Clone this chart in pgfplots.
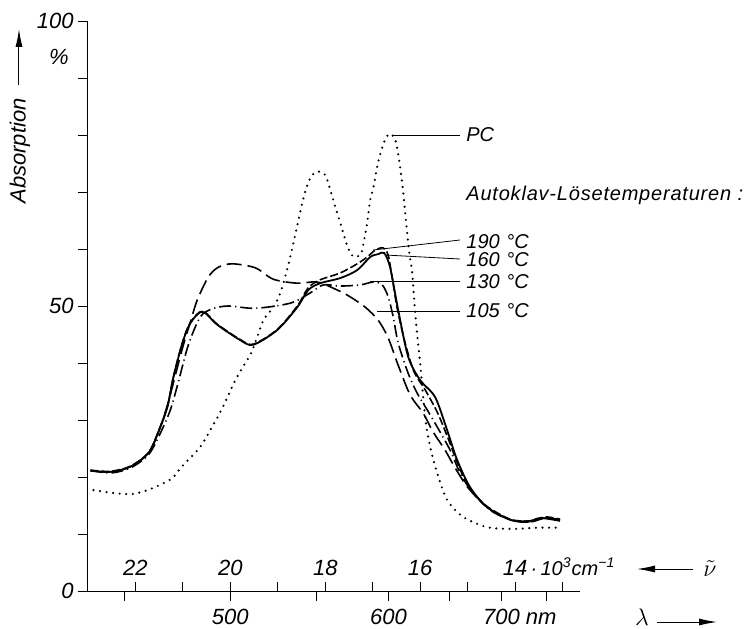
\documentclass[border=0pt]{standalone}
\usepackage{pgfplots}
\pgfplotsset{compat=1.18}
\usepackage{pgfplotstable}
\usepackage{fontspec}
\setmainfont{Liberation Sans}
\usetikzlibrary{arrows.meta}

% x: wavenumber in 10^3 cm^-1, y: absorption in %
\pgfplotstableread{
k y
22.947 21.1
22.526 20.9
22.105 21.8
21.726 24.2
21.516 27.9
21.326 32.3
21.200 37.5
21.010 43.5
20.842 47.0
20.589 49.0
20.274 46.7
19.789 44.0
19.516 43.2
19.010 45.8
18.589 49.8
18.358 52.8
18.105 54.0
17.684 54.9
17.326 56.3
17.053 58.6
16.884 59.1
16.758 59.3
16.631 56.7
16.463 49.3
16.253 41.1
16.000 37.0
15.684 34.0
15.431 28.2
15.221 23.0
14.947 18.2
14.589 14.7
14.105 12.5
13.747 12.1
13.474 12.8
13.053 12.3
}\tsolid

\pgfplotstableread{
k y
22.947 21.2
22.526 21.0
22.105 21.9
21.726 24.3
21.516 28.0
21.326 32.4
21.200 37.6
21.010 43.6
20.842 47.1
20.589 49.1
20.274 46.8
19.789 44.1
19.516 43.3
19.010 45.9
18.589 50.0
18.358 53.2
18.105 54.6
17.684 55.8
17.326 57.4
17.116 58.6
16.947 59.8
16.779 60.2
16.674 58.9
16.589 54.9
16.484 49.6
16.316 43.5
16.126 38.4
15.895 35.3
15.642 31.4
15.431 27.2
15.221 22.6
14.989 18.4
14.632 15.1
14.105 12.6
13.684 12.3
13.368 13.0
13.053 12.6
}\tshort

\pgfplotstableread{
k y
22.947 21.2
22.526 20.7
22.105 21.6
21.726 23.9
21.474 27.7
21.263 31.8
21.095 36.7
20.884 43.2
20.632 48.1
20.379 49.5
20.042 50.0
19.474 49.6
18.737 50.5
18.316 52.3
18.042 53.7
17.684 53.5
17.263 53.7
16.989 54.2
16.800 53.7
16.674 51.6
16.568 48.1
16.463 43.5
16.253 38.2
16.063 34.7
15.853 31.8
15.642 28.8
15.368 24.7
15.158 20.7
14.905 17.4
14.526 14.2
14.105 12.5
13.684 12.1
13.368 12.8
13.053 12.5
}\tdashdot

\pgfplotstableread{
k y
22.947 21.1
22.526 20.9
22.105 21.8
21.726 24.2
21.516 27.9
21.326 32.6
21.158 37.9
20.989 43.2
20.842 47.2
20.695 51.1
20.463 55.1
20.253 56.8
19.958 57.4
19.474 56.7
19.095 54.7
18.589 54.0
18.168 54.2
17.747 52.8
17.474 51.6
17.158 49.8
16.884 47.5
16.674 44.4
16.463 39.6
16.211 34.4
15.937 31.2
15.726 27.9
15.474 24.7
15.263 21.6
14.989 18.1
14.589 14.7
14.105 12.5
13.684 12.3
13.368 12.8
13.053 12.5
}\tlong

\pgfplotstableread{
k y
22.884 17.7
22.484 17.2
22.105 17.0
21.853 17.4
21.621 18.1
21.411 18.9
21.221 19.8
21.095 21.1
20.947 22.5
20.779 23.9
20.632 25.3
20.505 27.0
20.400 28.6
20.274 30.4
20.105 33.2
19.895 37.0
19.684 40.0
19.558 41.8
19.432 44.6
19.305 47.5
19.095 49.8
18.947 52.3
18.779 57.2
18.632 62.5
18.484 68.1
18.379 71.2
18.274 73.0
18.147 73.6
18.000 73.0
17.895 70.4
17.789 67.4
17.684 64.6
17.558 61.1
17.453 59.0
17.347 58.6
17.242 59.2
17.200 60.7
17.116 64.6
17.053 68.6
16.989 70.7
16.884 75.3
16.758 78.8
16.653 80.2
16.547 79.6
16.484 77.7
16.379 71.6
16.295 64.6
16.232 59.5
16.168 55.8
16.105 48.8
16.042 43.2
16.000 40.0
15.895 30.5
15.789 25.3
15.642 20.7
15.432 16.0
15.095 13.0
14.589 11.2
14.042 10.9
13.537 11.1
13.011 11.1
}\tpc

\begin{document}
\begin{tikzpicture}[font=\fontsize{11}{13}\selectfont\itshape]
\useasboundingbox (-44pt,-18.5pt) rectangle (333.5pt,295.5pt);
\begin{axis}[
  at={(0,0)}, anchor=south west,
  scale only axis, width=246pt, height=285pt,
  x dir=reverse, xmin=12.632, xmax=23.0,
  ymin=0, ymax=100,
  axis x line*=bottom, axis y line*=left,
  axis line style={line width=0.5pt, -},
  clip=false,
  /pgf/number format/assume math mode=true,
  tick label style={font=\fontsize{11}{13}\selectfont\itshape},
  tick style={line width=0.5pt, black},
  ytick={0,50,100}, yticklabels={0,50,100},
  y tick label style={inner sep=2pt},
  minor ytick={10,20,30,40,60,70,80,90},
  ytick align=outside,
  major tick length=5pt, minor tick length=5pt,
  xtick={13.333,14.286,15.385,16.667,18.182,20,22.222},
  xticklabels={,700\rlap{ nm},,600,,500,},
  xtick align=outside,
  x tick label style={anchor=north, yshift=-0.5pt},
  extra x ticks={13,14,15,16,17,18,19,20,21,22},
  extra x tick labels={,14\rlap{\fontsize{10}{12}\selectfont\,·\,10\textsuperscript{3}cm\textsuperscript{−1}},,16,,18,,20,,22},
  extra x tick style={tick align=inside, major tick length=4.5pt,
    x tick label style={anchor=base, yshift=8.5pt}},
]
\addplot[smooth, line width=0.9pt] table[x=k, y=y] {\tsolid};
\addplot[smooth, line width=0.8pt, dash pattern=on 4pt off 1.5pt] table[x=k, y=y] {\tshort};
\addplot[smooth, line width=0.8pt, dash pattern=on 6pt off 2pt on 0.6pt off 2pt] table[x=k, y=y] {\tdashdot};
\addplot[smooth, line width=0.8pt, dash pattern=on 7.5pt off 3pt] table[x=k, y=y] {\tlong};
\addplot[smooth, line width=1.2pt, line cap=round, dash pattern=on 0pt off 3.3pt] table[x=k, y=y] {\tpc};
\end{axis}
% axis titles and arrows
\node[rotate=90] at (-34pt,220pt) {Absorption};
\draw[line width=0.5pt, -{Latex[length=9pt,width=3.5pt]}] (-34.5pt,253pt) -- (-34.5pt,281pt);
\node at (-14.5pt,267pt) {\%};
\draw[line width=0.5pt, -{Latex[length=9pt,width=3.5pt]}] (302.5pt,11pt) -- (274.5pt,11pt);
\node at (311pt,11pt) {\large$\tilde{\nu}$};
\node[inner sep=0pt] at (277pt,-13pt) {\large$\lambda$};
\draw[line width=0.5pt, -{Latex[length=9pt,width=3.5pt]}] (284.5pt,-15.5pt) -- (314.5pt,-15.5pt);
% curve labels
\begin{scope}[font=\fontsize{10}{12}\selectfont\itshape]
\draw[line width=0.4pt] (152.5pt,228pt) -- (186pt,228pt);
\node[anchor=west, inner sep=0pt] at (189pt,228pt) {PC};
\node[anchor=west, inner sep=0pt] at (189pt,198pt) {\addfontfeatures{LetterSpace=4}Autoklav-Lösetemperaturen :};
\draw[line width=0.4pt] (142.5pt,170.5pt) -- (186pt,175.5pt);
\node[anchor=west, inner sep=0pt] at (189pt,174.5pt) {190\,\,°C};
\draw[line width=0.4pt] (148.5pt,168pt) -- (186pt,166pt);
\node[anchor=west, inner sep=0pt] at (189pt,165.5pt) {160\,\,°C};
\draw[line width=0.4pt] (141pt,155pt) -- (186pt,155pt);
\node[anchor=west, inner sep=0pt] at (189pt,154.5pt) {130\,\,°C};
\draw[line width=0.4pt] (144.5pt,140pt) -- (186pt,140pt);
\node[anchor=west, inner sep=0pt] at (189pt,140pt) {105\,\,°C};
\end{scope}
\end{tikzpicture}
\end{document}
